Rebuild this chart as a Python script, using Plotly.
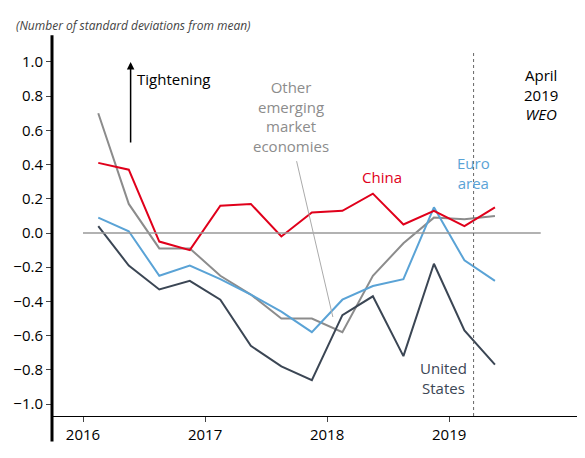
import plotly.graph_objects as go

quarters = [2016.125 + 0.25*i for i in range(14)]
china = [0.41, 0.37, -0.05, -0.10, 0.16, 0.17, -0.02, 0.12, 0.13, 0.23, 0.05, 0.13, 0.04, 0.15]
euro = [0.09, 0.01, -0.25, -0.19, -0.27, -0.36, -0.46, -0.58, -0.39, -0.31, -0.27, 0.15, -0.16, -0.28]
other_em = [0.70, 0.17, -0.09, -0.09, -0.25, -0.36, -0.50, -0.50, -0.58, -0.25, -0.06, 0.09, 0.08, 0.10]
us = [0.04, -0.19, -0.33, -0.28, -0.39, -0.66, -0.78, -0.86, -0.48, -0.37, -0.72, -0.18, -0.57, -0.77]

fig = go.Figure()
for y, c in [(other_em, "#8c8c8c"), (us, "#3b4654"), (euro, "#5aa3d6"), (china, "#e0001b")]:
    fig.add_trace(go.Scatter(x=quarters, y=y, mode="lines", line=dict(color=c, width=2), showlegend=False))

fig.add_shape(type="line", xref="x", yref="y", x0=2016.0, x1=2019.75, y0=0, y1=0, line=dict(color="#999", width=1.5))
fig.add_shape(type="line", xref="x", yref="paper", x0=2019.2, x1=2019.2, y0=0, y1=1, line=dict(color="#666", width=1, dash="dot"))
fig.add_shape(type="line", xref="paper", yref="paper", x0=1, x1=1, y0=-0.07, y1=1.04, line=dict(color="black", width=3))
fig.add_shape(type="line", xref="paper", yref="paper", x0=0, x1=0, y0=-0.07, y1=1.04, line=dict(color="black", width=3))

ann = [
    dict(x=2016.43, y=0.9, text="Tightening", xanchor="left", font=dict(size=15, color="black")),
    dict(x=2017.7, y=0.68, text="Other<br>emerging<br>market<br>economies", font=dict(size=15, color="#8c8c8c")),
    dict(x=2018.45, y=0.33, text="China", font=dict(size=15, color="#e0001b")),
    dict(x=2019.2, y=0.35, text="Euro<br>area", font=dict(size=15, color="#5aa3d6")),
    dict(x=2018.95, y=-0.85, text="United<br>States", font=dict(size=15, color="#3b4654")),
    dict(x=2019.75, y=0.81, text="April<br>2019<br><i>WEO</i>", xanchor="center", font=dict(size=15, color="black")),
]
for a in ann:
    fig.add_annotation(showarrow=False, xref="x", yref="y", **a)
fig.add_annotation(x=2016.39, y=1.0, ax=2016.39, ay=0.52, axref="x", ayref="y", xref="x", yref="y",
                   showarrow=True, arrowhead=2, arrowsize=1, arrowwidth=1.5, arrowcolor="black", text="")
fig.add_annotation(x=2017.75, y=0.42, ax=2018.05, ay=-0.5, axref="x", ayref="y", xref="x", yref="y",
                   showarrow=True, arrowhead=0, arrowwidth=1, arrowcolor="#aaa", text="")
fig.add_annotation(x=0, y=1.0, xref="paper", yref="paper", xanchor="left", yanchor="bottom", xshift=-38, yshift=14,
                   showarrow=False, text="<i>(Number of standard deviations from mean)</i>",
                   font=dict(size=12, color="#444"))

fig.update_layout(
    width=585, height=458, paper_bgcolor="white", plot_bgcolor="white",
    margin=dict(l=44, r=12, t=42, b=50), font=dict(family="Open Sans", size=15, color="black"),
    xaxis=dict(range=[2015.746, 2020.08], tickvals=[2016, 2017, 2018, 2019], showgrid=False, automargin=False,
               showline=True, linecolor="black", linewidth=1, ticks="outside", ticklen=5, zeroline=False),
    yaxis=dict(range=[-1.07, 1.07], tickvals=[-1, -0.8, -0.6, -0.4, -0.2, 0, 0.2, 0.4, 0.6, 0.8, 1.0],
               tickformat=".1f", showgrid=False, zeroline=False, ticks="outside", ticklen=5, automargin=False),
)
fig.write_html("out.html")
